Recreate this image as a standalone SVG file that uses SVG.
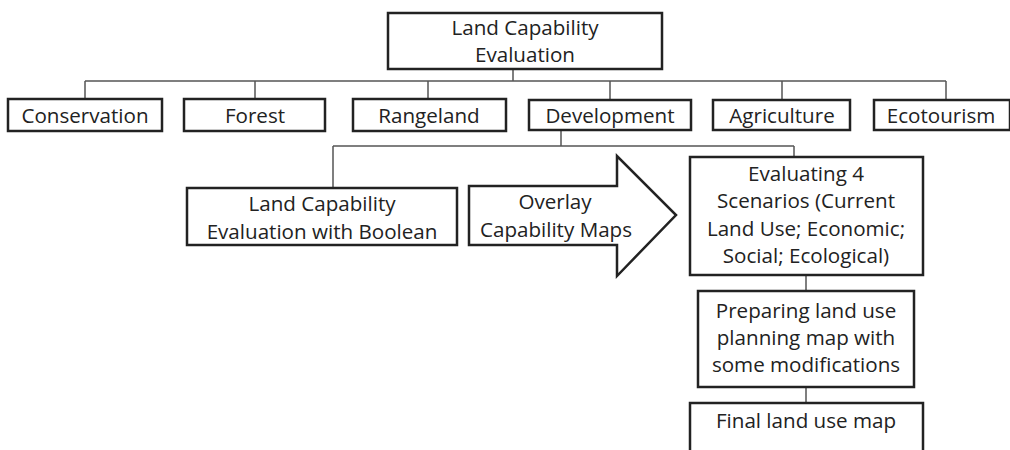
<svg xmlns="http://www.w3.org/2000/svg" width="1010" height="450" viewBox="0 0 1010 450">
<style>
.box{fill:#fff;stroke:#222;stroke-width:2.5}
.ln{fill:none;stroke:#555;stroke-width:1.5}
text{font-family:"Open Sans","Liberation Sans",sans-serif;font-size:20.6px;fill:#222;text-anchor:middle}
</style>
<rect width="1010" height="450" fill="#fff"/>
<g id="connectors">
<path class="ln" d="M513 69V81M85 81H946M85 81V99M255 81V99M428 81V99M610 81V100M782 81V100M946 81V100"/>
<path class="ln" d="M561 131V146M333 146H794M333 146V188M794 146V157"/>
<path class="ln" d="M806 275V291M806 387V403"/>
</g>
<g id="n-root"><rect class="box" x="388" y="13" width="274" height="56"/><text x="525" y="35">Land Capability</text><text x="525" y="62">Evaluation</text></g>
<g id="n-conservation"><rect class="box" x="8" y="99" width="154" height="32"/><text x="85" y="123">Conservation</text></g>
<g id="n-forest"><rect class="box" x="184" y="99" width="141" height="32"/><text x="255" y="123">Forest</text></g>
<g id="n-rangeland"><rect class="box" x="353" y="99" width="153" height="32"/><text x="429" y="123">Rangeland</text></g>
<g id="n-development"><rect class="box" x="529" y="100" width="162" height="30"/><text x="610" y="123">Development</text></g>
<g id="n-agriculture"><rect class="box" x="713" y="100" width="137" height="30"/><text x="782" y="123">Agriculture</text></g>
<g id="n-ecotourism"><rect class="box" x="874" y="100" width="136" height="30"/><text x="941" y="123">Ecotourism</text></g>
<g id="n-boolean"><rect class="box" x="187" y="188" width="270" height="57"/><text x="322" y="211">Land Capability</text><text x="322" y="239">Evaluation with Boolean</text></g>
<g id="n-overlay"><path class="box" d="M469 186H617V156L676 215L617 276V245H469Z"/><text x="555" y="209">Overlay</text><text x="556" y="237">Capability Maps</text></g>
<g id="n-scenarios"><rect class="box" x="690" y="157" width="233" height="118"/><text x="806" y="181">Evaluating 4</text><text x="806" y="208">Scenarios (Current</text><text x="806" y="236">Land Use; Economic;</text><text x="806" y="263">Social; Ecological)</text></g>
<g id="n-preparing"><rect class="box" x="698" y="291" width="216" height="96"/><text x="806" y="318">Preparing land use</text><text x="806" y="345">planning map with</text><text x="806" y="372">some modifications</text></g>
<g id="n-final"><rect class="box" x="690" y="403" width="233" height="60"/><text x="806" y="428">Final land use map</text></g>
</svg>
